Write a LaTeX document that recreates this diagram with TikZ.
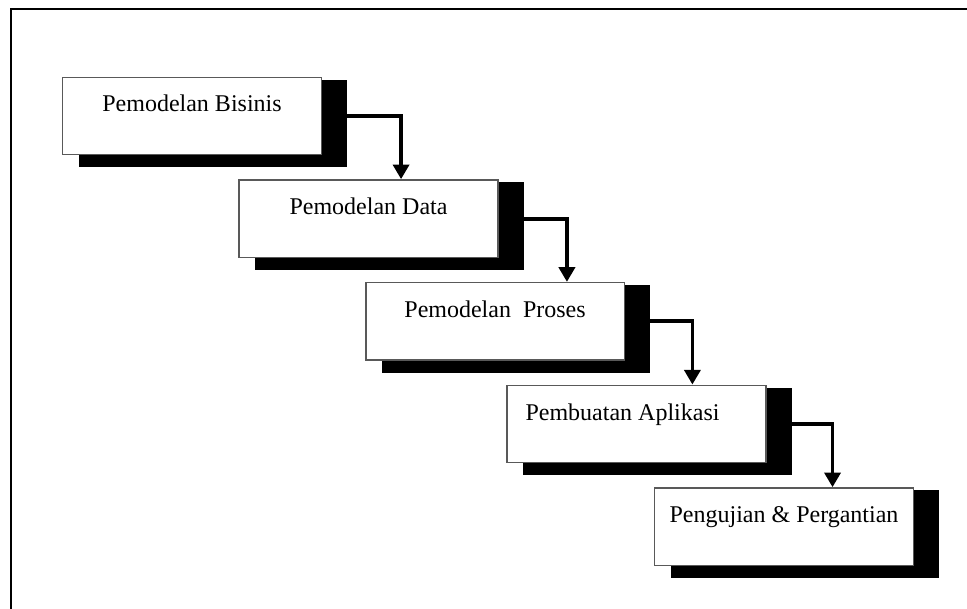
\documentclass[tikz,border=0pt]{standalone}
\usepackage{fontspec}
\setmainfont{Liberation Serif}
\usetikzlibrary{positioning,arrows.meta,backgrounds}

\tikzstyle{tahap} = [rectangle, draw=gray!70!black, line width=1.2pt, fill=white, minimum width=194pt, inner xsep=0pt, inner ysep=0pt, text height=26pt, text depth=32pt, font=\fontsize{18}{22}\selectfont]
\tikzstyle{alir} = [-{Triangle[width=12pt,length=11pt]}, line width=2.8pt]

\begin{document}
\begin{tikzpicture}[node distance=77pt]
\useasboundingbox (0,0) rectangle (725.25pt,-456.75pt);
\draw[line width=1.5pt] (8.25pt,-470pt) -- (8.25pt,-6.75pt) -- (740pt,-6.75pt);

\node[tahap] (Bisinis) at (144pt,-87pt) {Pemodelan Bisinis};
\node[tahap] (Data) [below of=Bisinis, xshift=132.4pt] {Pemodelan Data};
\node[tahap] (Proses) [below of=Data, xshift=94.9pt] {Pemodelan\ \ Proses};
\node[tahap] (Aplikasi) [below of=Proses, xshift=106.1pt] {Pembuatan Aplikasi\hspace*{21pt}};
\node[tahap] (Pengujian) [below of=Aplikasi, xshift=110.6pt] {Pengujian \& Pergantian};

% shadow behind the boxes
\begin{scope}[on background layer]
\foreach \n in {Bisinis,Data,Proses,Aplikasi,Pengujian}
  \fill ([shift={(12.75pt,-9pt)}]\n.south west) rectangle ([shift={(18.75pt,-2.25pt)}]\n.north east);
\end{scope}

\draw[alir] ([xshift=18.75pt]Bisinis.east) -| ([xshift=122pt]Data.north west);
\draw[alir] ([xshift=18.75pt]Data.east) -| ([xshift=151.5pt]Proses.north west);
\draw[alir] ([xshift=18.75pt]Proses.east) -| ([xshift=139.5pt]Aplikasi.north west);
\draw[alir] ([xshift=18.75pt]Aplikasi.east) -| ([xshift=134pt]Pengujian.north west);

\end{tikzpicture}
\end{document}
